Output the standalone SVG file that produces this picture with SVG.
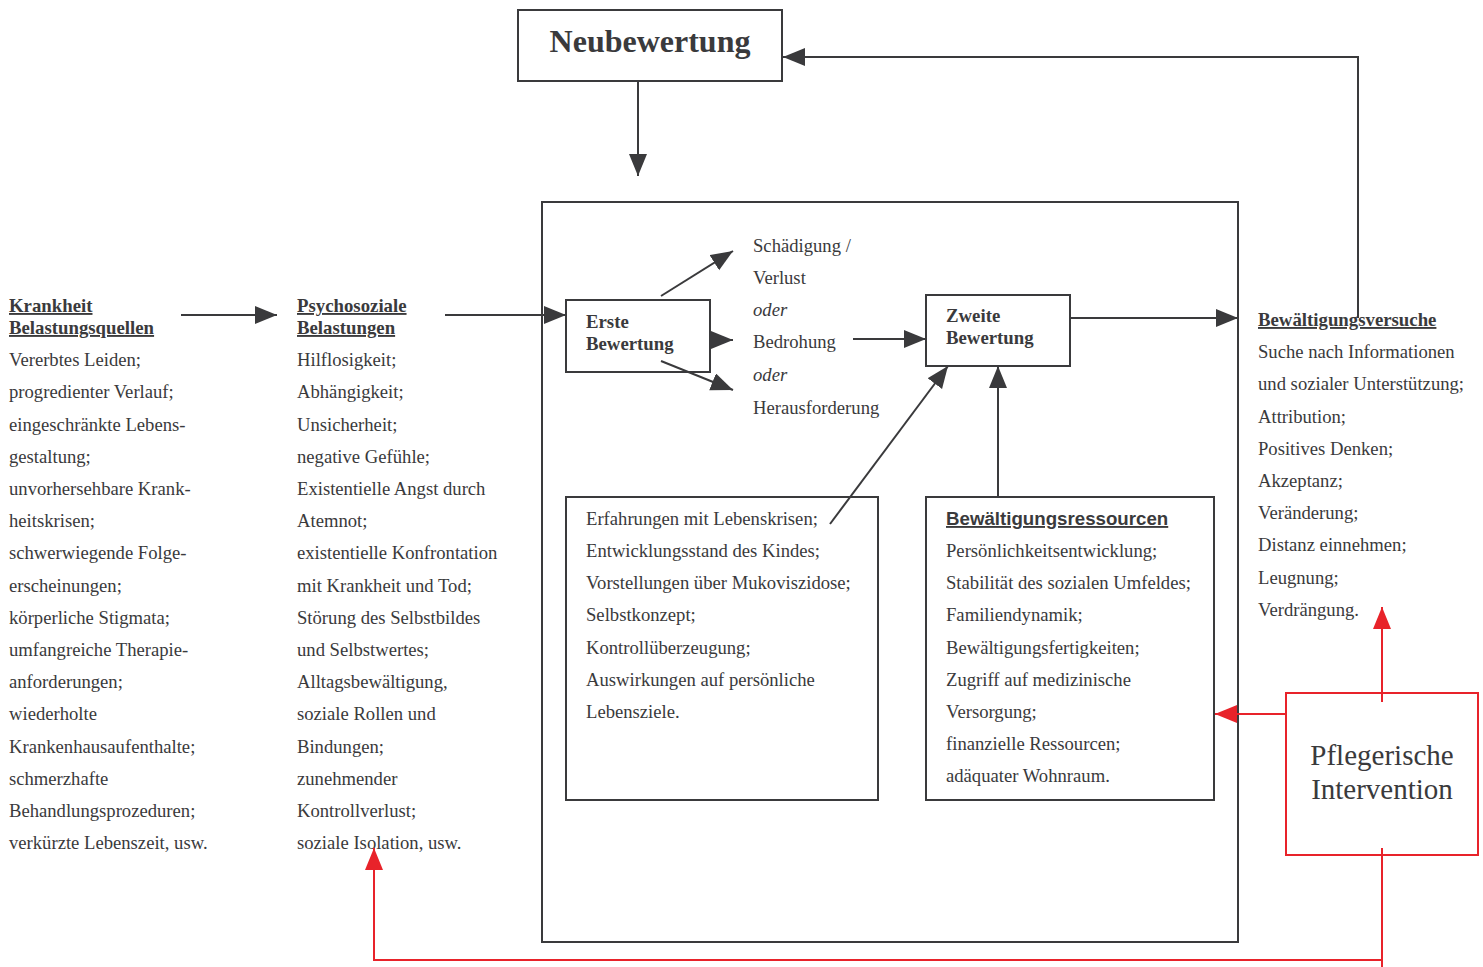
<svg xmlns="http://www.w3.org/2000/svg" width="1483" height="967" viewBox="0 0 1483 967">
<defs>
<style>
.t{font-family:"Liberation Serif","Times New Roman",serif;font-size:18.65px;fill:#3a3a3c}
.b{font-family:"Liberation Serif","Times New Roman",serif;font-size:18.8px;font-weight:bold;fill:#3a3a3c}
.u{text-decoration:underline}
.i{font-style:italic}
.box{fill:none;stroke:#3a3a3c;stroke-width:2}
.rbox{fill:none;stroke:#e8232a;stroke-width:2}
.c{fill:none;stroke:#3a3a3c;stroke-width:2}
.r{fill:none;stroke:#e8232a;stroke-width:2}
</style>
<marker id="ad" markerUnits="userSpaceOnUse" markerWidth="24" markerHeight="20" refX="22" refY="9" orient="auto"><path d="M0,0 L22,9 L0,18 z" fill="#3a3a3c"/></marker>
<marker id="ar" markerUnits="userSpaceOnUse" markerWidth="24" markerHeight="20" refX="22" refY="9" orient="auto"><path d="M0,0 L22,9 L0,18 z" fill="#e8232a"/></marker>
</defs>
<rect width="1483" height="967" fill="#fff"/>

<g id="neubewertung">
<rect class="box" x="518" y="10" width="264" height="71"/>
<text x="650" y="52" text-anchor="middle" style="font-family:'Liberation Serif',serif;font-size:32px;font-weight:bold;fill:#3a3a3c">Neubewertung</text>
</g>

<g id="hauptrahmen">
<rect class="box" x="542" y="202" width="696" height="740"/>
</g>

<g id="krankheit">
<text class="b u" x="9" y="312">Krankheit</text>
<text class="b u" x="9" y="334">Belastungsquellen</text>
<text class="t" x="9" y="366">Vererbtes Leiden;</text>
<text class="t" x="9" y="398">progredienter Verlauf;</text>
<text class="t" x="9" y="431">eingeschränkte Lebens-</text>
<text class="t" x="9" y="463">gestaltung;</text>
<text class="t" x="9" y="495">unvorhersehbare Krank-</text>
<text class="t" x="9" y="527">heitskrisen;</text>
<text class="t" x="9" y="559">schwerwiegende Folge-</text>
<text class="t" x="9" y="592">erscheinungen;</text>
<text class="t" x="9" y="624">körperliche Stigmata;</text>
<text class="t" x="9" y="656">umfangreiche Therapie-</text>
<text class="t" x="9" y="688">anforderungen;</text>
<text class="t" x="9" y="720">wiederholte</text>
<text class="t" x="9" y="753">Krankenhausaufenthalte;</text>
<text class="t" x="9" y="785">schmerzhafte</text>
<text class="t" x="9" y="817">Behandlungsprozeduren;</text>
<text class="t" x="9" y="849">verkürzte Lebenszeit, usw.</text>
</g>

<g id="psychosoziale">
<text class="b u" x="297" y="312">Psychosoziale</text>
<text class="b u" x="297" y="334">Belastungen</text>
<text class="t" x="297" y="366">Hilflosigkeit;</text>
<text class="t" x="297" y="398">Abhängigkeit;</text>
<text class="t" x="297" y="431">Unsicherheit;</text>
<text class="t" x="297" y="463">negative Gefühle;</text>
<text class="t" x="297" y="495">Existentielle Angst durch</text>
<text class="t" x="297" y="527">Atemnot;</text>
<text class="t" x="297" y="559">existentielle Konfrontation</text>
<text class="t" x="297" y="592">mit Krankheit und Tod;</text>
<text class="t" x="297" y="624">Störung des Selbstbildes</text>
<text class="t" x="297" y="656">und Selbstwertes;</text>
<text class="t" x="297" y="688">Alltagsbewältigung,</text>
<text class="t" x="297" y="720">soziale Rollen und</text>
<text class="t" x="297" y="753">Bindungen;</text>
<text class="t" x="297" y="785">zunehmender</text>
<text class="t" x="297" y="817">Kontrollverlust;</text>
<text class="t" x="297" y="849">soziale Isolation, usw.</text>
</g>

<g id="erste-bewertung">
<rect class="box" x="566" y="300" width="144" height="72"/>
<text class="b" x="586" y="328">Erste</text>
<text class="b" x="586" y="350">Bewertung</text>
</g>

<g id="bewertungsergebnis">
<text class="t" x="753" y="252">Schädigung /</text>
<text class="t" x="753" y="284">Verlust</text>
<text class="t i" x="753" y="316">oder</text>
<text class="t" x="753" y="348">Bedrohung</text>
<text class="t i" x="753" y="381">oder</text>
<text class="t" x="753" y="414">Herausforderung</text>
</g>

<g id="zweite-bewertung">
<rect class="box" x="926" y="295" width="144" height="71"/>
<text class="b" x="946" y="322">Zweite</text>
<text class="b" x="946" y="344">Bewertung</text>
</g>

<g id="persoenliche-faktoren">
<rect class="box" x="566" y="497" width="312" height="303"/>
<text class="t" x="586" y="525">Erfahrungen mit Lebenskrisen;</text>
<text class="t" x="586" y="557">Entwicklungsstand des Kindes;</text>
<text class="t" x="586" y="589">Vorstellungen über Mukoviszidose;</text>
<text class="t" x="586" y="621">Selbstkonzept;</text>
<text class="t" x="586" y="654">Kontrollüberzeugung;</text>
<text class="t" x="586" y="686">Auswirkungen auf persönliche</text>
<text class="t" x="586" y="718">Lebensziele.</text>
</g>

<g id="bewaeltigungsressourcen">
<rect class="box" x="926" y="497" width="288" height="303"/>
<text x="946" y="525" text-decoration="underline" style="font-family:'Liberation Sans',Arial,sans-serif;font-size:18.7px;font-weight:bold;fill:#3a3a3c">Bewältigungsressourcen</text>
<text class="t" x="946" y="557">Persönlichkeitsentwicklung;</text>
<text class="t" x="946" y="589">Stabilität des sozialen Umfeldes;</text>
<text class="t" x="946" y="621">Familiendynamik;</text>
<text class="t" x="946" y="654">Bewältigungsfertigkeiten;</text>
<text class="t" x="946" y="686">Zugriff auf medizinische</text>
<text class="t" x="946" y="718">Versorgung;</text>
<text class="t" x="946" y="750">finanzielle Ressourcen;</text>
<text class="t" x="946" y="782">adäquater Wohnraum.</text>
</g>

<g id="bewaeltigungsversuche">
<text class="b u" x="1258" y="326">Bewältigungsversuche</text>
<text class="t" x="1258" y="358">Suche nach Informationen</text>
<text class="t" x="1258" y="390">und sozialer Unterstützung;</text>
<text class="t" x="1258" y="423">Attribution;</text>
<text class="t" x="1258" y="455">Positives Denken;</text>
<text class="t" x="1258" y="487">Akzeptanz;</text>
<text class="t" x="1258" y="519">Veränderung;</text>
<text class="t" x="1258" y="551">Distanz einnehmen;</text>
<text class="t" x="1258" y="584">Leugnung;</text>
<text class="t" x="1258" y="616">Verdrängung.</text>
</g>

<g id="pflegerische-intervention">
<rect class="rbox" x="1286" y="693" width="192" height="162"/>
<text x="1382" y="765" text-anchor="middle" style="font-family:'Liberation Serif',serif;font-size:29px;fill:#3a3a3c">Pflegerische</text>
<text x="1382" y="799" text-anchor="middle" style="font-family:'Liberation Serif',serif;font-size:29px;fill:#3a3a3c">Intervention</text>
</g>

<g id="connectors">
<line class="c" x1="638" y1="81" x2="638" y2="176" marker-end="url(#ad)"/>
<polyline class="c" points="1358,318 1358,57 783,57" marker-end="url(#ad)"/>
<line class="c" x1="181" y1="315" x2="277" y2="315" marker-end="url(#ad)"/>
<line class="c" x1="445" y1="315" x2="566" y2="315" marker-end="url(#ad)"/>
<line class="c" x1="661" y1="296" x2="733" y2="251" marker-end="url(#ad)"/>
<line class="c" x1="710" y1="340" x2="733" y2="340" marker-end="url(#ad)"/>
<line class="c" x1="661" y1="361" x2="733" y2="390" marker-end="url(#ad)"/>
<line class="c" x1="853" y1="339" x2="926" y2="339" marker-end="url(#ad)"/>
<line class="c" x1="1070" y1="318" x2="1238" y2="318" marker-end="url(#ad)"/>
<line class="c" x1="830" y1="524" x2="948" y2="366" marker-end="url(#ad)"/>
<line class="c" x1="998" y1="497" x2="998" y2="366" marker-end="url(#ad)"/>
<line class="r" x1="1382" y1="702" x2="1382" y2="607" marker-end="url(#ar)"/>
<line class="r" x1="1286" y1="714" x2="1215" y2="714" marker-end="url(#ar)"/>
<polyline class="r" points="1382,848 1382,960 374,960 374,848" marker-end="url(#ar)"/>
<line class="r" x1="1382" y1="960" x2="1382" y2="967"/>
</g>
</svg>
